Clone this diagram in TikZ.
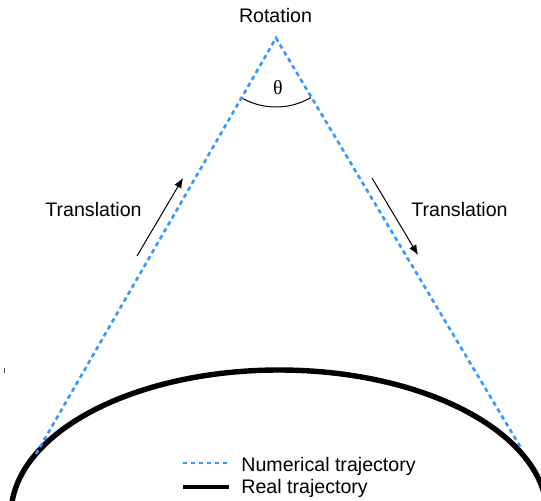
\documentclass[tikz,border=0pt]{standalone}
\usepackage{fontspec}
\setmainfont{Liberation Sans}
\newfontfamily\greekfont{Liberation Serif}
\usetikzlibrary{arrows.meta}
\definecolor{numblue}{RGB}{51,153,255}

\begin{document}
\begin{tikzpicture}[
  x=0.5pt,
  y=-0.5pt,
  numtraj/.style={
    draw=numblue,
    line width=1.3pt,
    dash pattern=on 2.2pt off 1.8pt
  },
  realtraj/.style={
    draw=black,
    line width=2.7pt
  },
  arrow/.style={
    -{Latex[length=5pt,width=4pt]},
    line width=0.5pt
  },
  lbl/.style={
    font=\fontsize{9.8}{11}\selectfont,
    inner sep=0pt
  }
]
\useasboundingbox (0,0) rectangle (541,500);
\clip (0,0) rectangle (541,500);

% --- points of the numerical path ---
\coordinate (apex) at (276,38);
\coordinate (leftend) at (36,454);
\coordinate (rightend) at (521,448);
\coordinate (earthc) at (279,515);

% --- real trajectory (elliptic arc) ---
\draw[realtraj] (earthc) ellipse[x radius=268, y radius=145];

% --- numerical trajectory ---
\draw[numtraj] (leftend) -- (apex) -- (rightend);

% --- rotation angle ---
\draw[line width=0.5pt] (apex) ++(118.8:69) arc[start angle=118.8, end angle=59.7, radius=69];
\node[lbl,font=\greekfont\fontsize{10}{11}\selectfont] (theta) at (278,87.5) {θ};
\node[lbl,anchor=base] (rot) at (275.5,22) {Rotation};

% --- translation arrows ---
\coordinate (ltail) at (137,256);
\coordinate (lhead) at (183,178);
\coordinate (rtail) at (372,178);
\coordinate (rhead) at (418,255);
\draw[arrow] (ltail) -- (lhead);
\draw[arrow] (rtail) -- (rhead);
\node[lbl,anchor=base] (ltrans) at (93.5,216) {Translation};
\node[lbl,anchor=base] (rtrans) at (459.5,216) {Translation};

% --- legend ---
\coordinate (numA) at (183,463);
\coordinate (numB) at (229,463);
\coordinate (realA) at (183,487);
\coordinate (realB) at (229,487);
\draw[numtraj] (numA) -- (numB);
\draw[realtraj,line width=2pt] (realA) -- (realB);
\node[lbl,anchor=base west] (numtxt) at (241,471.5) {Numerical trajectory};
\node[lbl,anchor=base west] (realtxt) at (241,493) {Real trajectory};

% stray tick on the left
\coordinate (tickA) at (4.5,367.5);
\coordinate (tickB) at (4.5,373);
\draw[black!70,line width=0.6pt] (tickA) -- (tickB);

\end{tikzpicture}
\end{document}
